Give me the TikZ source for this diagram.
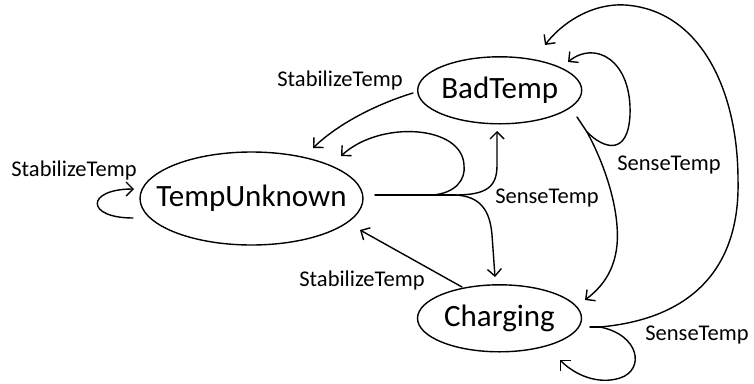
\documentclass[tikz,border=0pt]{standalone}
\usepackage{fontspec}
\setmainfont{Carlito}
\usetikzlibrary{arrows.meta,shapes.geometric,calc}
\begin{document}
\begin{tikzpicture}[x=1pt,y=-1pt,
  state/.style={draw, ellipse, line width=1.4pt, inner sep=0pt,
    font=\fontsize{31}{36}\selectfont},
  edge/.style={line width=1.4pt, line cap=round, line join=round},
  arr/.style={edge, -{Straight Barb[length=7pt,width=14pt]}},
  lbl/.style={font=\fontsize{22.5}{26}\selectfont, inner sep=0pt}]
\useasboundingbox (0,0) rectangle (754,383);

% states
\node[state, minimum width=223pt, minimum height=93pt] (tu) at (251.5,198.5) {\makebox[0pt]{TempUnknown}};
\node[state, minimum width=164pt, minimum height=67pt] (bad) at (499.7,90.3) {\makebox[0pt]{BadTemp}};
\node[state, minimum width=164pt, minimum height=67pt] (chg) at (499.5,318.3) {\makebox[0pt]{Charging}};

% branch points
\coordinate (j1) at (433,195);
\coordinate (j2) at (455,195);
\coordinate (j3) at (587,132);
\coordinate (j4) at (600,327);

% TempUnknown: self loop on the left
\draw[arr] ($(tu)+(-118.5,19.5)$) .. controls (85,218) and (86,189) .. ($(tu)+(-117.5,-9.5)$);

% TempUnknown: shared stem to the right
\draw[edge] ($(tu)+(123.5,-3.5)$) -- (j2);
\draw[arr] (j1) .. controls (455,193) and (466,180) .. (464,165)
  .. controls (462,125) and (380,120) .. ($(tu)+(89.5,-42.5)$);
\draw[arr] (j2) .. controls (488,195) and (497,186) .. (497,165) -- ($(bad)+(-2.7,40.7)$);
\draw[arr] (j2) .. controls (480,196) and (490,210) .. (492,235) -- ($(chg)+(-4.5,-41.3)$);

% BadTemp -> TempUnknown
\draw[arr] ($(bad)+(-86.7,2.7)$) .. controls (380,103) and (340,122) .. ($(tu)+(61.5,-50.5)$);

% BadTemp: stem, self loop and edge to Charging
\draw[edge] ($(bad)+(77.3,26.7)$) -- (j3);
\draw[arr] (j3) .. controls (605,150) and (628,155) .. (630,115)
  .. controls (632,60) and (595,40) .. ($(bad)+(68.3,-28.3)$);
\draw[arr] (j3) .. controls (605,165) and (620,210) .. (617,245)
  .. controls (614,275) and (598,290) .. ($(chg)+(85.5,-18.3)$);

% Charging: stem, long edge to BadTemp and self loop
\draw[edge] ($(chg)+(90.5,8.7)$) -- (j4);
\draw[arr] (j4) .. controls (700,318) and (740,260) .. (738,180)
  .. controls (738,90) and (700,10) .. (625,5)
  .. controls (590,3) and (560,25) .. ($(bad)+(45.3,-45.3)$);
\draw[arr] (j4) .. controls (640,335) and (645,370) .. (620,378)
  .. controls (598,385) and (575,375) .. ($(chg)+(60.5,41.7)$);

% Charging -> TempUnknown
\draw[arr] ($(chg)+(-37.5,-31.3)$) -- ($(tu)+(108.5,31.5)$);

% transition labels
\node[lbl] (l1) at (340,80) {StabilizeTemp};
\node[lbl] (l2) at (74,170) {StabilizeTemp};
\node[lbl] (l3) at (547,198) {SenseTemp};
\node[lbl] (l4) at (669,165) {SenseTemp};
\node[lbl] (l5) at (362,280) {StabilizeTemp};
\node[lbl] (l6) at (697,335) {SenseTemp};
\end{tikzpicture}
\end{document}
